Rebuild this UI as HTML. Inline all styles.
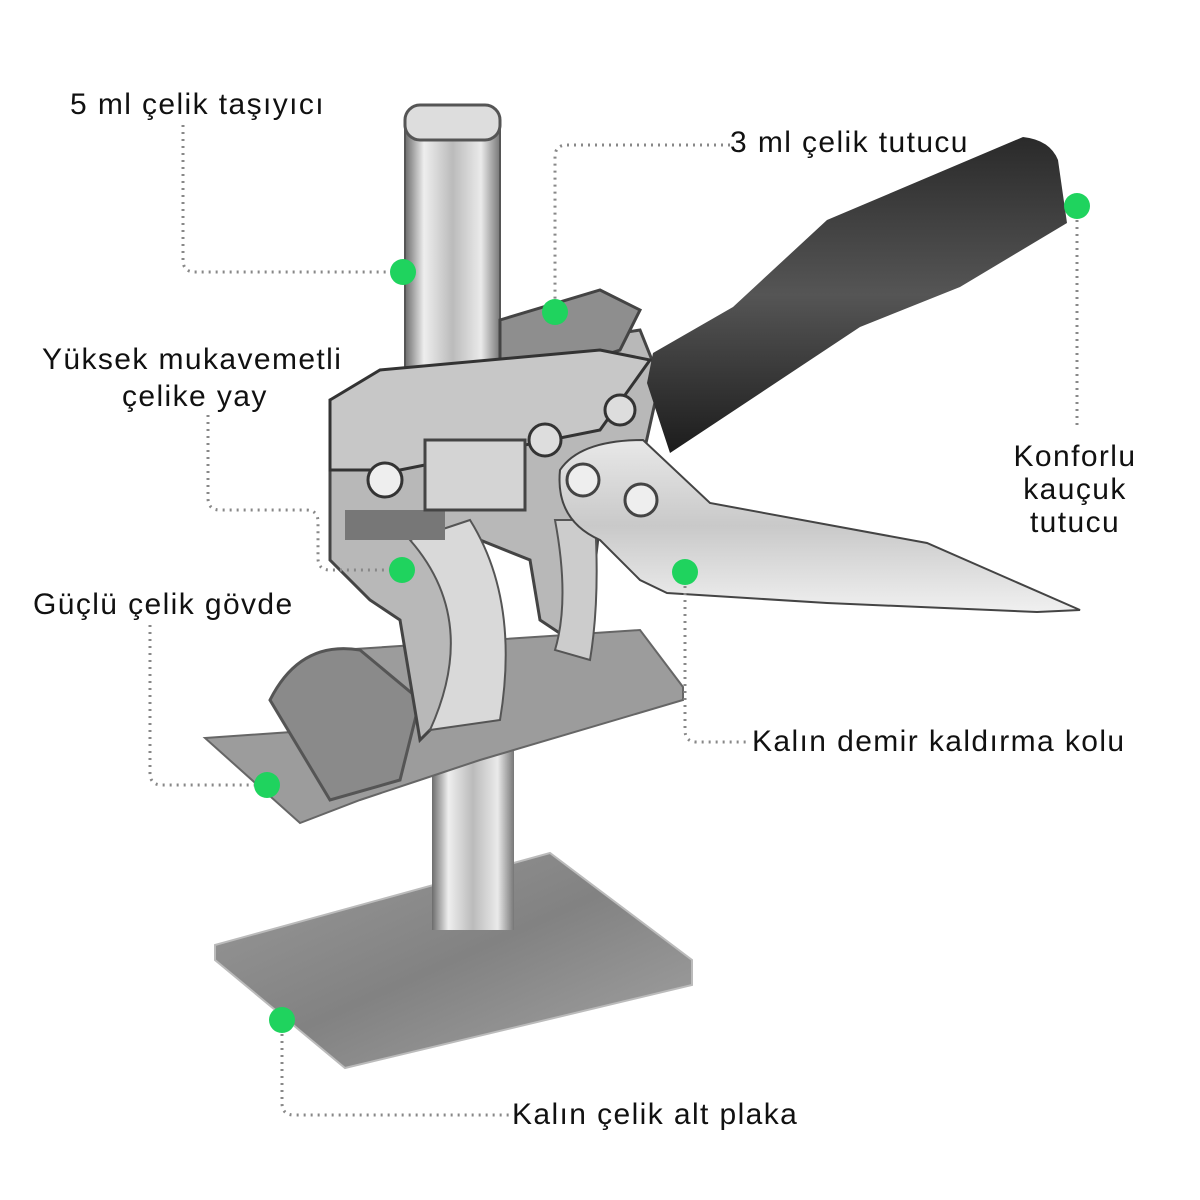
<!DOCTYPE html>
<html><head><meta charset="utf-8"><style>
html,body{margin:0;padding:0;background:#fff}
body{width:1200px;height:1200px;position:relative;overflow:hidden;font-family:"Liberation Sans",sans-serif}
.t{position:absolute;font-size:30px;letter-spacing:1.4px;color:#111;white-space:nowrap;line-height:1}
</style></head><body>
<svg width="1200" height="1200" style="position:absolute;left:0;top:0">
<defs>
<linearGradient id="bar" x1="0" x2="1"><stop offset="0" stop-color="#6c6c6c"/><stop offset=".2" stop-color="#eee"/><stop offset=".5" stop-color="#bbb"/><stop offset=".8" stop-color="#eaeaea"/><stop offset="1" stop-color="#777"/></linearGradient>
<linearGradient id="plate" x1="0" y1="0" x2="1" y2="1"><stop offset="0" stop-color="#9a9a9a"/><stop offset=".5" stop-color="#828282"/><stop offset="1" stop-color="#a5a5a5"/></linearGradient>
<linearGradient id="blk" x1="0" y1="0" x2="0" y2="1"><stop offset="0" stop-color="#2a2a2a"/><stop offset=".5" stop-color="#555"/><stop offset="1" stop-color="#1c1c1c"/></linearGradient>
<linearGradient id="lev" x1="0" y1="0" x2="0" y2="1"><stop offset="0" stop-color="#e8e8e8"/><stop offset=".5" stop-color="#c9c9c9"/><stop offset="1" stop-color="#f0f0f0"/></linearGradient>
</defs>
<polygon points="215,945 550,853 692,960 692,985 345,1068 215,960" fill="url(#plate)" stroke="#bbb" stroke-width="2"/>
<rect x="432" y="740" width="82" height="190" fill="url(#bar)"/>
<polygon points="205,738 320,730 340,650 640,630 683,687 683,700 480,760 420,780 360,800 300,823" fill="#9c9c9c" stroke="#666" stroke-width="2"/>
<path d="M270,700 Q300,640 360,650 L420,700 L400,780 L330,800 Z" fill="#8a8a8a" stroke="#555" stroke-width="3"/>
<path d="M330,400 L420,365 L640,330 L660,380 L640,470 L600,520 L585,650 L540,620 L530,560 L480,540 L460,700 L420,740 L400,620 L370,600 L330,560 Z" fill="#b8b8b8" stroke="#444" stroke-width="3"/>
<path d="M410,540 Q480,620 430,730 L500,720 Q520,600 470,520 Z" fill="#d9d9d9" stroke="#555" stroke-width="2"/>
<path d="M555,520 Q570,600 555,650 L590,660 Q600,600 595,520 Z" fill="#ccc" stroke="#555" stroke-width="2"/>
<rect x="345" y="510" width="100" height="30" fill="#777"/>
<rect x="405" y="110" width="95" height="300" rx="8" fill="url(#bar)" stroke="#555" stroke-width="2"/>
<rect x="405" y="105" width="95" height="35" rx="15" fill="#ddd" stroke="#555" stroke-width="3"/>
<polygon points="500,320 600,290 640,310 620,350 500,390" fill="#8e8e8e" stroke="#444" stroke-width="3"/>
<polygon points="330,400 380,370 600,350 650,360 600,430 400,470 330,470" fill="#c7c7c7" stroke="#333" stroke-width="3"/>
<rect x="425" y="440" width="100" height="70" fill="#d4d4d4" stroke="#444" stroke-width="3"/>
<circle cx="385" cy="480" r="17" fill="#eee" stroke="#333" stroke-width="3"/>
<circle cx="545" cy="440" r="16" fill="#ddd" stroke="#333" stroke-width="3"/>
<circle cx="620" cy="410" r="15" fill="#ddd" stroke="#333" stroke-width="3"/>
<path d="M1023,137 Q1050,140 1058,160 L1067,223 L960,287 L860,327 L670,453 L647,383 L653,353 L733,307 L827,220 Z" fill="url(#blk)"/>
<path d="M560,470 Q580,440 643,440 L710,503 L927,543 L1080,610 L1037,612 L827,603 L667,593 L640,580 L600,540 Q555,520 560,470 Z" fill="url(#lev)" stroke="#444" stroke-width="2"/>
<circle cx="583" cy="480" r="16" fill="#eee" stroke="#444" stroke-width="3"/>
<circle cx="641" cy="500" r="16" fill="#eee" stroke="#444" stroke-width="3"/>
<g fill="none" stroke="#888" stroke-width="3" stroke-dasharray="2 5">
<path d="M183,125 V260 Q183,272 195,272 H403"/>
<path d="M730,145 H567 Q555,145 555,157 V312"/>
<path d="M208,415 V498 Q208,510 220,510 H306 Q318,510 318,522 V558 Q318,570 330,570 H402"/>
<path d="M150,625 V773 Q150,785 162,785 H267"/>
<path d="M1077,206 V425"/>
<path d="M685,572 V730 Q685,742 697,742 H750"/>
<path d="M282,1020 V1103 Q282,1115 294,1115 H510"/>
</g>
<g fill="#1fd35e">
<circle cx="403" cy="272" r="13"/><circle cx="555" cy="312" r="13"/><circle cx="402" cy="570" r="13"/>
<circle cx="267" cy="785" r="13"/><circle cx="1077" cy="206" r="13"/><circle cx="685" cy="572" r="13"/><circle cx="282" cy="1020" r="13"/>
</g>
</svg>
<div class="t" style="left:70px;top:90px">5 ml çelik taşıyıcı</div>
<div class="t" style="left:730px;top:128px">3 ml çelik tutucu</div>
<div class="t" style="left:42px;top:345px">Yüksek mukavemetli</div>
<div class="t" style="left:122px;top:382px">çelike yay</div>
<div class="t" style="left:33px;top:590px">Güçlü çelik gövde</div>
<div class="t" style="left:990px;top:440px;width:170px;text-align:center;white-space:normal;line-height:33px">Konforlu kauçuk tutucu</div>
<div class="t" style="left:752px;top:727px">Kalın demir kaldırma kolu</div>
<div class="t" style="left:512px;top:1100px">Kalın çelik alt plaka</div>
</body></html>
